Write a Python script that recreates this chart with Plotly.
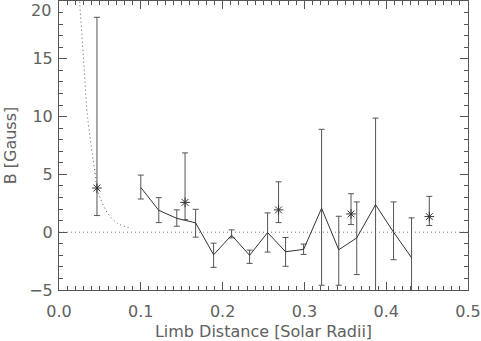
import plotly.graph_objects as go

# Line series with error bars
line_x = [0.100, 0.122, 0.144, 0.167, 0.189, 0.211, 0.233, 0.255, 0.277, 0.299,
          0.321, 0.342, 0.364, 0.387, 0.409, 0.431]
line_y = [3.87, 1.89, 1.20, 0.81, -1.95, -0.26, -2.00, -0.03, -1.69, -1.49,
          2.07, -1.52, -0.49, 2.38, 0.00, -2.20]
line_hi = [4.94, 2.99, 1.93, 1.98, -0.95, 0.20, -1.55, 1.67, -0.46, -1.03,
           8.90, 1.38, 2.62, 9.87, 2.62, 1.24]
line_lo = [2.87, 0.83, 0.52, -0.43, -3.04, -0.49, -2.70, -1.72, -2.95, -1.92,
           -4.59, -4.59, -3.67, -5.60, -2.38, -5.60]

# Asterisk points with error bars
star_x = [0.0464, 0.1541, 0.2684, 0.357, 0.4527]
star_y = [3.82, 2.58, 1.93, 1.58, 1.35]
star_hi = [18.59, 6.86, 4.36, 3.33, 3.10]
star_lo = [1.44, 1.09, 0.83, 0.66, 0.58]

# Dotted model curve
curve_x = [0.0230, 0.0251, 0.0300, 0.0349, 0.0443, 0.0467, 0.0512, 0.0593, 0.0708, 0.0891]
curve_y = [22.0, 20.0, 15.0, 10.0, 5.0, 3.8, 2.8, 1.67, 0.80, 0.32]

x_range = [0.0, 0.5]
y_range = [-5, 20]
x_ticks = [0.0, 0.1, 0.2, 0.3, 0.4, 0.5]
x_ticklabels = ["0.0", "0.1", "0.2", "0.3", "0.4", "0.5"]
y_ticks = [-5, 0, 5, 10, 15]
y_ticklabels = ["\u22125", "0", "5", "10", "15"]
y_top_label = "20"

INK = "#333333"
BAR = "#555555"
AX = "#555555"
TXT = "#606060"
FONT = "DejaVu Sans"
FS = 16

fig = go.Figure()

# zero line
fig.add_trace(go.Scatter(x=x_range, y=[0, 0], mode="lines",
                         line=dict(color="#777777", width=1, dash="1px,3px"),
                         hoverinfo="skip", showlegend=False))

fig.add_trace(go.Scatter(x=curve_x, y=curve_y, mode="lines",
                         line=dict(color="#555555", width=1, dash="1px,3px", shape="spline"),
                         showlegend=False))

fig.add_trace(go.Scatter(
    x=line_x, y=line_y, mode="lines",
    line=dict(color=INK, width=1),
    error_y=dict(type="data", symmetric=False,
                 array=[h - v for h, v in zip(line_hi, line_y)],
                 arrayminus=[v - l for l, v in zip(line_lo, line_y)],
                 color=BAR, thickness=1, width=3),
    showlegend=False))

fig.add_trace(go.Scatter(
    x=star_x, y=star_y, mode="markers",
    marker=dict(symbol="asterisk-open", size=8, color=INK, line=dict(color=INK, width=1)),
    error_y=dict(type="data", symmetric=False,
                 array=[h - v for h, v in zip(star_hi, star_y)],
                 arrayminus=[v - l for l, v in zip(star_lo, star_y)],
                 color=BAR, thickness=1, width=3),
    showlegend=False))

axis_common = dict(showgrid=False, zeroline=False, showline=True, linecolor=AX,
                   linewidth=1, mirror="ticks", ticks="inside", tickcolor=AX,
                   tickwidth=1, ticklen=8, automargin=False,
                   tickfont=dict(family=FONT, size=FS, color=TXT))

fig.update_xaxes(range=x_range, tickvals=x_ticks, ticktext=x_ticklabels,
                 ticklabelstandoff=7,
                 minor=dict(dtick=0.01, ticks="inside", ticklen=4, tickcolor=AX, tickwidth=1),
                 title=dict(text="Limb Distance [Solar Radii]", standoff=12,
                            font=dict(family=FONT, size=FS, color=TXT)),
                 **axis_common)
fig.update_yaxes(range=y_range, tickvals=y_ticks, ticktext=y_ticklabels,
                 ticklabelstandoff=2,
                 minor=dict(dtick=1, ticks="inside", ticklen=4, tickcolor=AX, tickwidth=1),
                 title=dict(text="B [Gauss]", standoff=8,
                            font=dict(family=FONT, size=FS, color=TXT)),
                 **axis_common)

fig.add_annotation(x=0, xref="paper", xanchor="right", xshift=-6,
                   y=y_range[1], yref="y", yanchor="top", yshift=2,
                   text=y_top_label, showarrow=False,
                   font=dict(family=FONT, size=FS, color=TXT))

fig.update_layout(width=481, height=341,
                  margin=dict(l=59, r=13, t=1, b=51),
                  paper_bgcolor="white", plot_bgcolor="white")

fig.write_html("out.html", config={"displayModeBar": False},
               post_script="document.body.style.margin='0';document.body.style.overflow='hidden';")
